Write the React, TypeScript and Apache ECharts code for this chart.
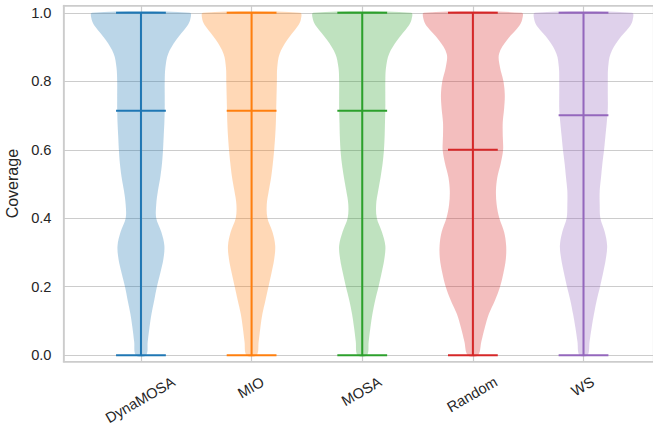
import React, { useEffect, useRef } from "react";
import * as echarts from "echarts";

const categories = ["DynaMOSA", "MIO", "MOSA", "Random", "WS"];
const colors = ["#1f77b4", "#ff7f0e", "#2ca02c", "#d62728", "#9467bd"];

const yLevels = [0, 0.04, 0.08, 0.12, 0.16, 0.2, 0.24, 0.28, 0.32, 0.36, 0.4, 0.44, 0.48, 0.52, 0.56, 0.6, 0.64, 0.68, 0.72, 0.76, 0.8, 0.84, 0.88, 0.92, 0.96, 0.98, 1.0];

// relative density (arbitrary units, each violin normalised to its own max)
const densDynaMOSA = [15, 20, 25, 31, 39, 47, 57, 66, 69, 60, 45, 45, 50, 57, 62, 65, 67, 69, 70, 70, 70, 72, 80, 103, 135, 145, 144];
const densMIO = [15, 21, 26, 32, 41, 50, 59, 67, 70, 62, 47, 45, 51, 58, 63, 67, 70, 72, 73, 74, 75, 76, 83, 105, 136, 146, 144];
const densMOSA = [14, 19, 24, 30, 38, 48, 57, 65, 68, 58, 43, 41, 47, 54, 60, 64, 66, 67, 68, 68, 68, 70, 79, 103, 135, 145, 144];
const densRandom = [15, 25, 35, 47, 65, 80, 90, 97, 98, 92, 78, 70, 68, 72, 82, 89, 88, 88, 92, 94, 90, 80, 77, 100, 135, 145, 144];
const densWS = [12, 18, 24, 31, 39, 49, 58, 66, 70, 63, 50, 48, 48, 52, 56, 61, 65, 69, 72, 72, 72, 73, 80, 103, 137, 146, 144];

const mins = [0, 0, 0, 0, 0];
const maxs = [1, 1, 1, 1, 1];
const medians = [0.714, 0.714, 0.714, 0.6, 0.701];

const densities = [densDynaMOSA, densMIO, densMOSA, densRandom, densWS];

const FONT = '"Liberation Sans", Arial, sans-serif';
const TEXT_COLOR = "#262626";
const GRID_COLOR = "#cccccc";
const HALF_WIDTH = 0.445;
const CAP_HALF = 0.225;
const X_MIN = 0.3;
const X_MAX = 5.628;
const Y_MIN = -0.019;
const Y_MAX = 1.021;
const TICK_FONT_SIZE = 14.67;

let measureCtx: CanvasRenderingContext2D | null = null;
function textWidth(s: string): number {
  if (!measureCtx) {
    const c = document.createElement("canvas");
    measureCtx = c.getContext("2d");
  }
  if (!measureCtx) return s.length * 8;
  measureCtx.font = `${TICK_FONT_SIZE}px ${FONT}`;
  return measureCtx.measureText(s).width;
}

export default function App() {
  const ref = useRef<HTMLDivElement>(null);

  useEffect(() => {
    if (!ref.current) return;
    const chart = echarts.init(ref.current, undefined, { renderer: "svg" });

    const violinSeries = {
      type: "custom",
      xAxisIndex: 0,
      yAxisIndex: 0,
      clip: false,
      data: categories.map((_, i) => [i]),
      renderItem: (params: any, api: any) => {
        const i = api.value(0) as number;
        const pos = i + 1;
        const dens = densities[i];
        const maxD = Math.max(...dens);
        const color = colors[i];
        const right = yLevels.map((y, k) => api.coord([pos + (dens[k] / maxD) * HALF_WIDTH, y]));
        const left = yLevels
          .map((y, k) => api.coord([pos - (dens[k] / maxD) * HALF_WIDTH, y]))
          .reverse();
        const pts = right.concat(left);
        const lineStyle = { stroke: color, lineWidth: 2 };
        const bottom = api.coord([pos, mins[i]]);
        const top = api.coord([pos, maxs[i]]);
        const cap = (v: number) => {
          const a = api.coord([pos - CAP_HALF, v]);
          const b = api.coord([pos + CAP_HALF, v]);
          return { type: "line", shape: { x1: a[0], y1: a[1], x2: b[0], y2: b[1] }, style: lineStyle };
        };
        return {
          type: "group",
          children: [
            { type: "polygon", shape: { points: pts, smooth: 0.35 }, style: { fill: color, opacity: 0.3 } },
            { type: "line", shape: { x1: bottom[0], y1: bottom[1], x2: top[0], y2: top[1] }, style: lineStyle },
            cap(mins[i]),
            cap(maxs[i]),
            cap(medians[i]),
          ],
        };
      },
    };

    const labelSeries = {
      type: "custom",
      xAxisIndex: 0,
      yAxisIndex: 0,
      clip: false,
      silent: true,
      data: categories.map((_, i) => [i]),
      renderItem: (params: any, api: any) => {
        const i = api.value(0) as number;
        const name = categories[i];
        const p = api.coord([i + 1, Y_MIN]);
        const w = textWidth(name);
        return {
          type: "text",
          x: p[0] - 0.7,
          y: p[1] + 18.9 + w / 4,
          rotation: Math.PI / 6,
          style: {
            text: name,
            fontFamily: FONT,
            fontSize: TICK_FONT_SIZE,
            fill: TEXT_COLOR,
            align: "center",
            verticalAlign: "middle",
          },
        };
      },
    };

    const spine = { show: true, onZero: false, lineStyle: { color: GRID_COLOR, width: 1.6 } };

    chart.setOption({
      animation: false,
      grid: { left: 63.5, right: 0, top: 5.6, bottom: 68.3, containLabel: false, outerBoundsMode: "none" },
      xAxis: [
        {
          type: "value",
          min: X_MIN,
          max: X_MAX,
          position: "bottom",
          axisLine: spine,
          axisTick: { show: false },
          axisLabel: { show: false },
          splitLine: { show: true, lineStyle: { color: GRID_COLOR, width: 1.2 } },
        },
        {
          type: "value",
          min: X_MIN,
          max: X_MAX,
          position: "top",
          axisLine: spine,
          axisTick: { show: false },
          axisLabel: { show: false },
          splitLine: { show: false },
        },
      ],
      yAxis: {
        type: "value",
        min: Y_MIN,
        max: Y_MAX,
        name: "Coverage",
        nameLocation: "middle",
        nameGap: 36,
        nameTextStyle: { fontFamily: FONT, fontSize: 16, color: TEXT_COLOR },
        axisLine: spine,
        axisTick: { show: false },
        axisLabel: {
          fontFamily: FONT,
          fontSize: TICK_FONT_SIZE,
          color: TEXT_COLOR,
          margin: 12,
          padding: [3, 0, 0, 0],
          showMinLabel: false,
          showMaxLabel: false,
          formatter: (v: number) => v.toFixed(1),
        },
        splitLine: { show: true, lineStyle: { color: GRID_COLOR, width: 1.2 } },
      },
      series: [violinSeries, labelSeries],
    });

    return () => chart.dispose();
  }, []);

  return (
    <div
      ref={ref}
      style={{ position: "fixed", left: 0, top: 0, width: 653, height: 430, background: "#ffffff" }}
    />
  );
}
